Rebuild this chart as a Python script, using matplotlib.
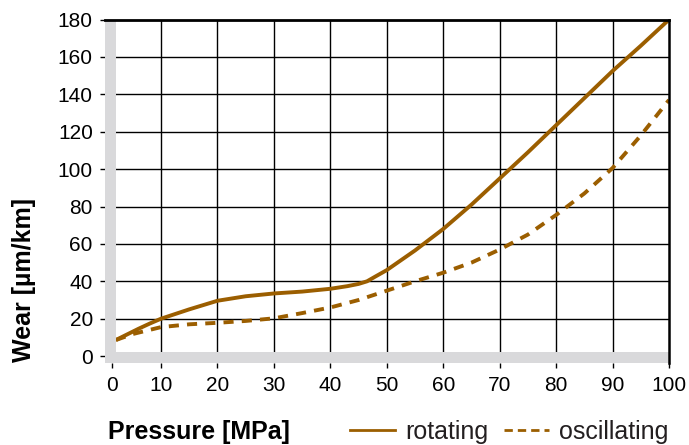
import matplotlib
matplotlib.use("Agg")
import matplotlib.pyplot as plt
from matplotlib.lines import Line2D

plt.rcParams['font.family'] = ['Liberation Sans', 'DejaVu Sans']

# Data
rot_x = [2, 4, 6, 8, 10, 15, 20, 25, 30, 35, 40, 43, 45, 46.5, 48, 50, 55, 60, 65, 70, 75, 80, 85, 90, 95, 100]
rot_y = [8.6, 11.6, 14.6, 17.4, 20, 25, 29.6, 32, 33.5, 34.5, 36, 37.4, 38.6, 40, 42.6, 46, 56.5, 68, 81, 95, 109, 123.5, 138, 152.5, 166, 180]
osc_x = [2, 5, 10, 15, 20, 25, 30, 35, 40, 45, 50, 55, 60, 65, 70, 75, 80, 85, 90, 95, 100]
osc_y = [8.6, 11.8, 15.5, 17, 17.8, 18.8, 20.2, 23, 26, 30, 35, 40, 44.6, 50, 57, 65, 75.5, 87, 100.6, 118, 137]
xtick_pos = [1.3, 10, 20, 30, 40, 50, 60, 70, 80, 90, 100]
xtick_labels = ['0', '10', '20', '30', '40', '50', '60', '70', '80', '90', '100']
ytick_pos = [0, 20, 40, 60, 80, 100, 120, 140, 160, 180]
series_names = ['rotating', 'oscillating']

BROWN = '#9B5E00'
GRAY = '#D9D9DB'

fig = plt.figure(figsize=(6.89, 4.45), dpi=100)
ax = fig.add_axes([104.6/689, 1-363/445, (669-104.6)/689, (363-19.6)/445])
ax.set_xlim(0, 100)
ax.set_ylim(-3.7, 180)

# grid
for x in [10, 20, 30, 40, 50, 60, 70, 80, 90]:
    ax.axvline(x, color='black', lw=1.0, zorder=1)
for y in [20, 40, 60, 80, 100, 120, 140, 160]:
    ax.axhline(y, color='black', lw=1.0, zorder=1)

ax.plot(rot_x, rot_y, color=BROWN, lw=2.8, zorder=3, solid_capstyle='butt', solid_joinstyle='round')
ax.plot(osc_x, osc_y, color=BROWN, lw=2.8, zorder=3, dashes=(2.6, 2.1), dash_capstyle='butt')

# gray bands
ax.axvspan(0, 2.0, color=GRAY, lw=0, zorder=4)
ax.axhspan(-3.7, 2.1, color=GRAY, lw=0, zorder=4)

for s in ['left', 'bottom']:
    ax.spines[s].set_visible(False)
ax.spines['top'].set_linewidth(2.0)
ax.spines['right'].set_linewidth(1.8)
ax.spines['top'].set_zorder(6)
ax.spines['right'].set_zorder(6)

ax.set_xticks(xtick_pos)
ax.set_xticklabels(xtick_labels)
ax.set_yticks(ytick_pos)
ax.tick_params(axis='both', labelsize=15, colors='black', width=1.0, length=3.5, direction='out')
ax.tick_params(axis='x', pad=6)
ax.tick_params(axis='y', pad=5)

fig.text(108/689, 1-439/445, 'Pressure [MPa]', fontsize=18, fontweight='bold', ha='left', va='baseline')
fig.text(24/689, 1-280/445, 'Wear [µm/km]', fontsize=18, fontweight='bold', ha='center', va='center', rotation=90)

handles = [Line2D([], [], color=BROWN, lw=2.0),
           Line2D([], [], color=BROWN, lw=2.0, dashes=(3.0, 1.8))]
fig.legend(handles, series_names, loc='center left', bbox_to_anchor=(350/689, 1-432/445),
           ncol=2, frameon=False, fontsize=18, handlelength=1.8, handletextpad=0.4,
           columnspacing=0.65, borderpad=0, borderaxespad=0, labelcolor='#231f20')

fig.savefig('out.png', dpi=100)
